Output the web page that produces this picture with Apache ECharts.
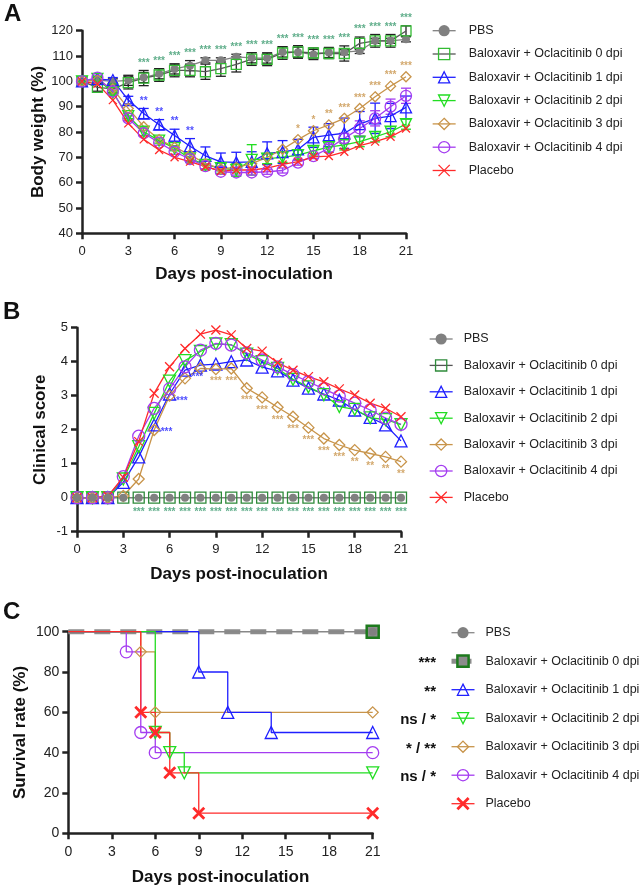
<!DOCTYPE html>
<html>
<head>
<meta charset="utf-8">
<script src="https://cdn.jsdelivr.net/npm/echarts@6/dist/echarts.min.js"></script>
<style>
html, body { margin: 0; padding: 0; background: #fff; }
#main { width: 640px; height: 886px; }
</style>
</head>
<body>
<div id="main"></div>
<script>
// ---- data ----
var days = [0, 1, 2, 3, 4, 5, 6, 7, 8, 9, 10, 11, 12, 13, 14, 15, 16, 17, 18, 19, 20, 21];
var groupNames = ['PBS', 'Baloxavir + Oclacitinib 0 dpi', 'Baloxavir + Oclacitinib 1 dpi',
    'Baloxavir + Oclacitinib 2 dpi', 'Baloxavir + Oclacitinib 3 dpi', 'Baloxavir + Oclacitinib 4 dpi', 'Placebo'];

// A: body weight (%)
var bwPBS = [100, 100.5, 100, 100.4, 101.5, 103, 104.9, 106.2, 108.3, 108.3, 109.7, 109.3, 109.2, 111.6, 111.5, 110.6, 111.4, 111.5, 112, 116, 116, 116.6];
var bw0 = [100, 97.6, 97, 99.5, 101.3, 102.5, 104.3, 104.3, 103.8, 105, 106.7, 108.8, 108.7, 111.2, 111.6, 111.2, 111, 111, 115, 116, 116, 119.9];
var bw1 = [100, 100.9, 100.5, 92.6, 87.3, 82.9, 78.6, 74.4, 70.6, 68.2, 68, 68.2, 71.6, 72.1, 73.1, 77.9, 78.8, 79.5, 83.1, 85.4, 86.3, 89.7];
var bw2 = [100, 101, 95.5, 86.3, 80.1, 76.6, 73.6, 69.6, 67, 65.7, 65, 69, 69.5, 70, 70.9, 72.5, 74, 74.9, 76.2, 78.1, 80.1, 83.1];
var bw3 = [100, 100.5, 97, 89.3, 82.1, 77, 74, 71, 67.5, 65.5, 66, 67.5, 70, 73.2, 77, 80.5, 82.8, 85.4, 89.3, 93.9, 98.1, 101.8];
var bw4 = [100, 101.5, 96, 85.4, 79.5, 75.8, 72.2, 69.3, 66.5, 64.3, 64, 64, 64.3, 64.8, 67.9, 70.5, 73.6, 77.5, 81.4, 85.4, 90, 94.3];
var bwPl = [100, 99, 92.6, 83.4, 77.1, 72.9, 70, 68.3, 66.3, 64.6, 65, 65, 65.7, 67.2, 68.3, 70.2, 70.5, 72.2, 74.6, 76.2, 78.1, 81.4];
// A: error (SD)
var sdPBS = [0, 1, 1, 2, 2, 2, 2, 2, 1, 1, 1, 2, 2, 2, 2, 2, 2, 1, 1, 1, 1, 1];
var sd0 = [0, 1.5, 1.5, 2.5, 3, 2.5, 2.5, 2.5, 3, 3, 3, 2.5, 2.5, 2.5, 2.5, 2, 2, 3, 2.5, 2.5, 2.5, 2];
var sd1 = [0, 1, 1, 1.5, 2, 2, 2.5, 3, 3.5, 3.5, 4, 4, 4.5, 4.5, 4, 4, 4.5, 6, 5, 6, 5, 4.5];
var sd2 = [0, 1, 1, 1, 1.5, 1, 1, 1.5, 2, 2, 2.5, 6, 2, 2, 2, 2, 2, 2, 2, 2, 2, 2];
var sd4 = [0, 1, 1, 1, 1, 1, 1, 1, 1, 1, 1, 1, 1, 1, 1, 1, 1.5, 2, 3, 3, 3, 3];
// A: significance
var sigA0 = ['', '', '', '', '***', '***', '***', '***', '***', '***', '***', '***', '***', '***', '***', '***', '***', '***', '***', '***', '***', '***'];
var sigA1 = ['', '', '', '', '**', '**', '**', '**', '', '', '', '', '', '', '', '', '', '', '', '', '', ''];
var sigA3 = ['', '', '', '', '', '', '', '', '', '', '', '', '', '', '*', '*', '**', '***', '***', '***', '***', '***'];

// B: clinical score
var csPBS = [0, 0, 0, 0, 0, 0, 0, 0, 0, 0, 0, 0, 0, 0, 0, 0, 0, 0, 0, 0, 0, 0];
var cs0 = [0, 0, 0, 0, 0, 0, 0, 0, 0, 0, 0, 0, 0, 0, 0, 0, 0, 0, 0, 0, 0, 0];
var cs1 = [0, 0, 0, 0.45, 1.2, 2.14, 3.05, 3.75, 3.9, 3.93, 4.0, 4.05, 3.84, 3.73, 3.46, 3.22, 3.05, 2.87, 2.58, 2.36, 2.14, 1.67];
var cs2 = [0, 0, 0, 0.55, 1.5, 2.48, 3.43, 4.03, 4.3, 4.52, 4.5, 4.22, 4.0, 3.8, 3.48, 3.26, 3.03, 2.68, 2.6, 2.35, 2.3, 2.15];
var cs3 = [0, 0, 0, 0.05, 0.55, 1.99, 3.0, 3.51, 3.8, 3.78, 3.8, 3.22, 2.95, 2.66, 2.38, 2.06, 1.74, 1.55, 1.4, 1.3, 1.2, 1.06];
var cs4 = [0, 0, 0, 0.62, 1.81, 2.63, 3.2, 3.85, 4.34, 4.54, 4.49, 4.26, 4.05, 3.85, 3.62, 3.41, 3.2, 2.99, 2.78, 2.58, 2.34, 2.16];
var csPl = [0, 0, 0.05, 0.6, 1.65, 3.07, 3.85, 4.39, 4.81, 4.93, 4.79, 4.39, 4.31, 3.97, 3.75, 3.56, 3.41, 3.2, 3.02, 2.78, 2.63, 2.38];
var sigB0 = ['', '', '', '', '***', '***', '***', '***', '***', '***', '***', '***', '***', '***', '***', '***', '***', '***', '***', '***', '***', '***'];
var sigB1 = ['', '', '', '', '', '***', '***', '***', '', '', '', '', '', '', '', '', '', '', '', '', '', ''];
var sigB3 = ['', '', '', '', '', '', '', '', '', '***', '***', '***', '***', '***', '***', '***', '***', '***', '**', '**', '**', '**'];

// C: survival (%) at event days
var svDaysPBS = [0, 21], svPBS = [100, 100];
var svDays0 = [0, 21], sv0 = [100, 100];
var svDays1 = [0, 9, 11, 14, 21], sv1 = [100, 80, 60, 50, 50];
var svDays2 = [0, 6, 7, 8, 21], sv2 = [100, 50, 40, 30, 30];
var svDays3 = [0, 5, 6, 21], sv3 = [100, 90, 60, 60];
var svDays4 = [0, 4, 5, 6, 21], sv4 = [100, 90, 50, 40, 40];
var svDaysPl = [0, 5, 6, 7, 9, 21], svPl = [100, 60, 50, 30, 10, 10];
var survSig = ['', '***', '**', 'ns / *', '* / **', 'ns / *', ''];

// ---- styles ----
var FONT = 'Liberation Sans';
var xPath = 'path://M0,0L10,10M10,0L0,10';
var colors = ['#808080', '#33bb33', '#1f1fff', '#22dd22', '#c8944a', '#a43cf0', '#ff2a2a'];
var symbols = ['circle', 'rect', 'triangle', 'triangle', 'diamond', 'circle', xPath];
var rotates = [0, 0, 0, 180, 0, 0, 0];
var teal = '#3a9a6e';

function pairs(xs, ys) {
    return xs.map(function (x, i) { return [x, ys[i]]; });
}

function lineS(prefix, gi, data, axis, sizes, extra) {
    var c = colors[gi];
    var s = {
        name: prefix + '|' + groupNames[gi],
        type: 'line',
        xAxisIndex: axis, yAxisIndex: axis,
        data: data,
        symbol: symbols[gi],
        symbolRotate: rotates[gi],
        symbolSize: sizes[gi],
        clip: false,
        lineStyle: {color: gi === 1 ? '#555' : c, width: 1.3},
        itemStyle: gi === 0 ? {color: c, borderWidth: 0}
            : {color: 'rgba(0,0,0,0)', borderColor: c, borderWidth: 1.3},
        emphasis: {disabled: true},
        z: 3
    };
    if (extra) {
        for (var k in extra) s[k] = extra[k];
    }
    return s;
}

function renderErr(params, api) {
    var x = api.value(0);
    var top = api.coord([x, api.value(2)]);
    var bot = api.coord([x, api.value(1)]);
    var c = api.visual('color');
    var st = {stroke: c, lineWidth: 1.3};
    return {
        type: 'group', children: [
            {type: 'line', shape: {x1: top[0], y1: top[1], x2: bot[0], y2: bot[1]}, style: st},
            {type: 'line', shape: {x1: top[0] - 5, y1: top[1], x2: top[0] + 5, y2: top[1]}, style: st},
            {type: 'line', shape: {x1: bot[0] - 5, y1: bot[1], x2: bot[0] + 5, y2: bot[1]}, style: st}
        ]
    };
}

function errS(mean, sd, color) {
    var data = [];
    days.forEach(function (d, i) {
        if (sd[i] > 0) data.push([d, mean[i] - sd[i], mean[i] + sd[i]]);
    });
    return {type: 'custom', xAxisIndex: 0, yAxisIndex: 0, renderItem: renderErr,
        itemStyle: {color: color}, data: data, z: 2, silent: true};
}

function starS(axis, ys, sig, color, pos, dist, offset) {
    var data = [];
    days.forEach(function (d, i) {
        if (sig[i]) data.push({value: [d, ys[i]], label: {formatter: sig[i]}});
    });
    return {
        type: 'scatter', xAxisIndex: axis, yAxisIndex: axis, data: data,
        symbolSize: 1, itemStyle: {color: 'rgba(0,0,0,0)'}, silent: true, clip: false, z: 5,
        label: {show: true, position: pos, distance: dist, offset: offset || [0, 0],
            color: color, fontSize: 10, fontWeight: 'bold', fontFamily: FONT}
    };
}

// ---- series ----
var series = [];
var bwAll = [bwPBS, bw0, bw1, bw2, bw3, bw4, bwPl];
var csAll = [csPBS, cs0, cs1, cs2, cs3, cs4, csPl];
var sizesA = [8, 10, 11, 11, 10, 11, 8];
var sizesB = [8, 11, 12, 12, 11, 12, 9];
var sizesC = [8, 12, 12, 12, 11, 12, 11];

series.push(errS(bwPBS, sdPBS, '#222'));
series.push(errS(bw0, sd0, '#222'));
series.push(errS(bw1, sd1, colors[2]));
series.push(errS(bw2, sd2, colors[3]));
series.push(errS(bw4, sd4, colors[5]));
bwAll.forEach(function (arr, gi) {
    series.push(lineS('A', gi, pairs(days, arr), 0, sizesA));
});
var topA0 = days.map(function (d, i) { return Math.max(bwPBS[i] + sdPBS[i], bw0[i] + sd0[i]); });
var topA1 = days.map(function (d, i) { return bw1[i] + sd1[i]; });
series.push(starS(0, topA0, sigA0, teal, 'top', 2));
series.push(starS(0, topA1, sigA1, colors[2], 'top', 2));
series.push(starS(0, bw3, sigA3, colors[4], 'top', 5));

[1, 2, 3, 4, 5, 6, 0].forEach(function (gi) {
    var ex = gi === 1 ? {itemStyle: {color: 'rgba(0,0,0,0)', borderColor: '#2e8a3a', borderWidth: 1.3}} : null;
    series.push(lineS('B', gi, pairs(days, csAll[gi]), 1, sizesB, ex));
});
series.push(starS(1, cs0, sigB0, teal, 'bottom', 9));
series.push(starS(1, cs1, sigB1, colors[2], 'right', 6, [0, 7]));
series.push(starS(1, cs3, sigB3, colors[4], 'bottom', 7));

function kmData(xs, ys) {
    return xs.map(function (x, i) {
        return i === 0 ? {value: [x, ys[i]], symbol: 'none'} : [x, ys[i]];
    });
}
var svX = [svDaysPBS, svDays0, svDays1, svDays2, svDays3, svDays4, svDaysPl];
var svY = [svPBS, sv0, sv1, sv2, sv3, sv4, svPl];
[1, 0, 4, 2, 5, 3, 6].forEach(function (gi) {
    var ex = {step: 'end'};
    if (gi === 0) {
        ex.lineStyle = {color: '#888', width: 1.5};
    }
    if (gi === 1) {
        ex.lineStyle = {color: '#8c8c8c', width: 5, type: [16, 10]};
        ex.itemStyle = {color: '#8c8c8c', borderColor: '#1d7a1d', borderWidth: 2.5};
    }
    if (gi === 6) {
        ex.itemStyle = {color: 'rgba(0,0,0,0)', borderColor: colors[6], borderWidth: 2.8};
    }
    series.push(lineS('C', gi, kmData(svX[gi], svY[gi]), 2, sizesC, ex));
});

// ---- axes ----
function xAx(gi, gap, fs, margin) {
    return {
        type: 'value', gridIndex: gi, min: 0, max: 21, interval: 3,
        name: 'Days post-inoculation', nameLocation: 'middle', nameGap: gap,
        nameTextStyle: {fontSize: 17, fontWeight: 'bold', color: '#111', fontFamily: FONT},
        axisLine: {show: true, onZero: false, lineStyle: {color: '#222', width: 2.5}},
        axisTick: {show: true, length: 6, lineStyle: {color: '#222', width: 2.5}},
        axisLabel: {fontSize: fs, color: '#222', margin: margin, fontFamily: FONT},
        splitLine: {show: false}
    };
}
function yAx(gi, name, min, max, step, gap, fs) {
    return {
        type: 'value', gridIndex: gi, min: min, max: max, interval: step,
        name: name, nameLocation: 'middle', nameGap: gap, nameMoveOverlap: false,
        nameTextStyle: {fontSize: 17, fontWeight: 'bold', color: '#111', fontFamily: FONT},
        axisLine: {show: true, onZero: false, lineStyle: {color: '#222', width: 2.5}},
        axisTick: {show: true, length: 6, lineStyle: {color: '#222', width: 2.5}},
        axisLabel: {fontSize: fs, color: '#222', margin: 9, fontFamily: FONT},
        splitLine: {show: false}
    };
}

function legendFor(prefix, left, top, gap, textPad, items) {
    return {
        orient: 'vertical', left: left, top: top, padding: 0,
        itemWidth: 23, itemHeight: 14, itemGap: gap,
        data: items || groupNames.map(function (n) { return prefix + '|' + n; }),
        formatter: function (n) { return n.split('|')[1]; },
        textStyle: {fontSize: 12.5, color: '#222', fontFamily: FONT, lineHeight: 14, padding: [0, 0, 0, textPad]},
        itemStyle: {borderWidth: 1.3},
        lineStyle: {width: 1.3},
        selectedMode: false
    };
}
var legendCItems = groupNames.map(function (n, i) {
    var it = {name: 'C|' + n};
    if (i === 1) {
        it.lineStyle = {width: 5, type: [8, 4]};
        it.itemStyle = {borderWidth: 2.5};
    }
    if (i === 6) it.itemStyle = {borderWidth: 2.8};
    return it;
});

var legCTop = 625.7, legCStep = 28.5;
var graphics = [
    {type: 'text', left: 4, top: 2, style: {text: 'A', fill: '#111', font: 'bold 24px ' + FONT}},
    {type: 'text', left: 3, top: 300, style: {text: 'B', fill: '#111', font: 'bold 24px ' + FONT}},
    {type: 'text', left: 3, top: 600, style: {text: 'C', fill: '#111', font: 'bold 24px ' + FONT}}
];
survSig.forEach(function (s, i) {
    if (!s) return;
    graphics.push({
        type: 'text', x: 436, y: legCTop + 7 + i * legCStep + 2,
        style: {text: s, fill: '#111', font: 'bold 15px ' + FONT, align: 'right', verticalAlign: 'middle'}
    });
});

var option = {
    animation: false,
    backgroundColor: '#fff',
    textStyle: {fontFamily: FONT},
    grid: [
        {left: 82, top: 30.7, width: 324, height: 202.6, outerBoundsMode: 'none'},
        {left: 77, top: 327.7, width: 324, height: 204, outerBoundsMode: 'none'},
        {left: 68.3, top: 631.7, width: 304.4, height: 201.6, outerBoundsMode: 'none'}
    ],
    xAxis: [xAx(0, 33, 13, 12), xAx(1, 34, 13, 11), xAx(2, 36, 14, 12)],
    yAxis: [
        yAx(0, 'Body weight (%)', 40, 120, 10, 35.5, 13),
        yAx(1, 'Clinical score', -1, 5, 1, 28.5, 13),
        yAx(2, 'Survival rate (%)', 0, 100, 20, 39.5, 14)
    ],
    legend: [
        legendFor('A', 432, 23.7, 9.3, 8),
        legendFor('B', 429, 332, 12.4, 6),
        legendFor('C', 449, legCTop, 14.5, 6, legendCItems)
    ],
    graphic: graphics,
    series: series
};

var chart = echarts.init(document.getElementById('main'), null, {renderer: 'canvas'});
chart.setOption(option);
</script>
</body>
</html>
